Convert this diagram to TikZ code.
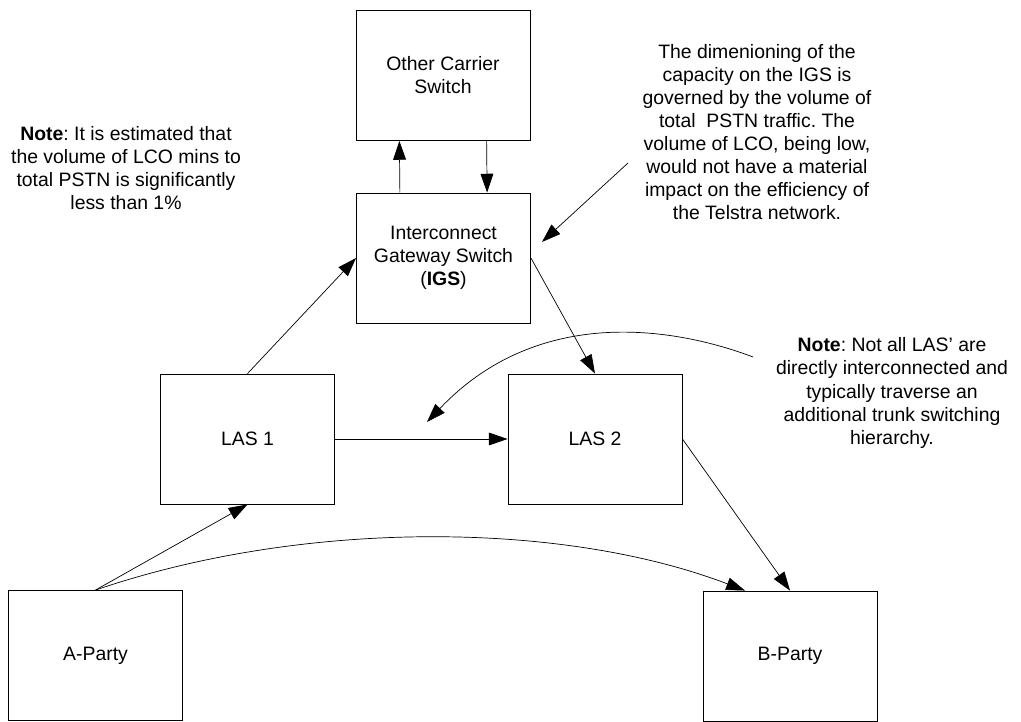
\documentclass[tikz,border=0pt]{standalone}
\usepackage{fontspec}
\setmainfont{Liberation Sans}
\usetikzlibrary{arrows.meta}
\frenchspacing

\begin{document}
\begin{tikzpicture}[x=0.025cm, y=-0.025cm,
    every node/.style={font=\fontsize{13.8}{16.4}\selectfont},
    switchbox/.style={draw, line width=0.6pt, minimum width=4.35cm, minimum height=3.25cm, inner sep=0pt, align=center},
    notetext/.style={align=center, inner sep=0pt},
    link/.style={-{Triangle[length=0.47cm,width=0.32cm]}, line width=0.5pt}]
  \useasboundingbox (0,0) rectangle (1021,722);

  \node[switchbox] (other) at (443,75.5) {Other Carrier\\Switch};
  \node[switchbox] (igs) at (443.5,258) {Interconnect\\Gateway Switch\\(\textbf{IGS})};
  \node[switchbox] (las1) at (247.5,439) {LAS 1};
  \node[switchbox] (las2) at (595,439) {LAS 2};
  \node[switchbox] (apty) at (95.5,655.5) {A-Party};
  \node[switchbox] (bpty) at (790,656) {B-Party};

  \node[notetext] (lconote) at (126,168) {\textbf{Note}: It is estimated that\\the volume of LCO mins to\\total PSTN is significantly\\less than 1\%};
  \node[notetext] (igsnote) at (757,132) {The dimenioning of the\\capacity on the IGS is\\governed by the volume of\\total\ \ PSTN traffic. The\\volume of LCO, being low,\\would not have a material\\impact on the efficiency of\\the Telstra network.};
  \node[notetext] (lasnote) at (892,393) {\textbf{Note}: Not all LAS' are\\directly interconnected and\\typically traverse an\\additional trunk switching\\hierarchy.};

  \coordinate (igsnotefrom) at (628,163);
  \coordinate (igsnoteto) at (542,242);
  \coordinate (lasnotefrom) at (753,357);
  \coordinate (lasnoteto) at (427,422);

  \draw[link] ([xshift=-1.09cm]igs.north) -- ([xshift=-1.09cm]other.south);
  \draw[link] ([xshift=1.09cm]other.south) -- ([xshift=1.09cm]igs.north);
  \draw[link] (las1.north) -- (igs.west);
  \draw[link] (igs.east) -- (las2.north);
  \draw[link] (las1.east) -- (las2.west);
  \draw[link] (las2.east) -- (bpty.north);
  \draw[link] (apty.north) -- (las1.south);
  \draw[link] (apty.north) .. controls (300,520) and (560,520) .. ([xshift=-1.125cm]bpty.north);
  \draw[link] (igsnotefrom) -- (igsnoteto);
  \draw[link] (lasnotefrom) .. controls (690,333) and (545,298) .. (lasnoteto);
\end{tikzpicture}
\end{document}
